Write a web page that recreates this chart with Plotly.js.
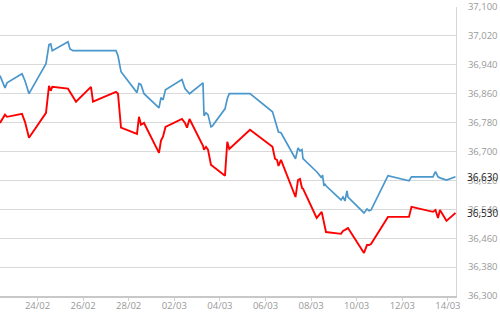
<!DOCTYPE html>
<html>
<head>
<meta charset="utf-8">
<script src="https://cdn.plot.ly/plotly-3.0.1.min.js"></script>
<style>html,body{margin:0;padding:0;background:#fff}#chart{width:500px;height:312px}</style>
</head>
<body>
<div id="chart"></div>
<script>
const times = [
'2023-02-22 08:32','2023-02-22 13:47','2023-02-22 15:54','2023-02-23 07:41','2023-02-23 10:50','2023-02-23 15:03',
'2023-02-24 08:57','2023-02-24 12:07','2023-02-24 13:53','2023-02-24 15:35','2023-02-25 08:07','2023-02-25 10:13',
'2023-02-25 13:22','2023-02-25 16:32','2023-02-26 08:19','2023-02-26 10:25','2023-02-27 10:38','2023-02-27 12:44',
'2023-02-27 15:54','2023-02-28 08:44','2023-02-28 10:50','2023-02-28 12:57','2023-02-28 16:07','2023-03-01 07:54',
'2023-03-01 10:00','2023-03-01 12:06','2023-03-01 14:44','2023-03-02 08:06','2023-03-02 11:15','2023-03-02 13:22',
'2023-03-02 16:00','2023-03-03 06:13','2023-03-03 07:16','2023-03-03 09:22','2023-03-03 11:28','2023-03-03 14:38',
'2023-03-03 16:13','2023-03-04 05:22','2023-03-04 07:47','2023-03-04 09:53','2023-03-05 07:41','2023-03-06 07:22',
'2023-03-06 10:00','2023-03-06 12:06','2023-03-06 13:41','2023-03-06 16:18','2023-03-07 07:35','2023-03-07 10:13',
'2023-03-07 12:19','2023-03-07 14:25','2023-03-07 15:28','2023-03-08 05:53','2023-03-08 11:10','2023-03-08 12:01',
'2023-03-08 13:35','2023-03-08 14:38','2023-03-08 15:41','2023-03-09 07:28','2023-03-09 09:35','2023-03-09 11:41',
'2023-03-09 13:47','2023-03-09 14:50','2023-03-10 07:41','2023-03-10 10:50','2023-03-10 12:57','2023-03-10 15:03',
'2023-03-11 08:57','2023-03-12 07:03','2023-03-12 09:41','2023-03-13 08:19','2023-03-13 10:57','2023-03-13 13:35',
'2023-03-13 15:41','2023-03-13 22:32','2023-03-14 08:00'
];
const blueValues = [
36910,36876,36890,36915,36896,36860,
36943,36996,36998,36979,37004,36984,
36979,36979,36979,36979,36979,36965,
36921,36863,36888,36885,36860,36821,
36849,36843,36871,36899,36874,36868,
36860,36890,36799,36807,36802,36768,
36771,36818,36846,36860,36860,36810,
36785,36763,36754,36752,36680,36710,
36702,36705,36680,36644,36627,36635,
36605,36610,36605,36566,36574,36563,
36591,36574,36530,36541,36536,36538,
36633,36619,36630,36630,36644,36630,
36627,36621,36630
];
const redValues = [
36779,36802,36796,36804,36782,36738,
36807,36882,36868,36879,36874,36865,
36851,36838,36879,36838,36865,36860,
36766,36749,36796,36774,36779,36696,
36730,36741,36768,36790,36779,36766,
36790,36716,36705,36713,36705,36663,
36660,36633,36727,36707,36760,36713,
36680,36677,36660,36677,36574,36621,
36624,36599,36597,36516,36533,36522,
36508,36494,36477,36472,36480,36483,
36486,36488,36419,36441,36441,36444,
36519,36519,36547,36533,36538,36516,
36538,36508,36530
];
const xRange = ['2023-02-22 08:32','2023-03-14 08:32'];
const yRange = [36300, 37100];
const yStep = 80;

const fmt = v => v.toLocaleString('en-US');
const blueLast = blueValues[blueValues.length-1];
const redLast = redValues[redValues.length-1];

const traces = [
  {x: times, y: blueValues, type:'scatter', mode:'lines', line:{color:'#4a97cc', width:1.7}, hoverinfo:'skip'},
  {x: times, y: redValues, type:'scatter', mode:'lines', line:{color:'#ff0000', width:1.9}, hoverinfo:'skip'}
];

const layout = {
  width:500, height:312,
  margin:{l:0, r:44, t:7, b:16, pad:0},
  paper_bgcolor:'#fff', plot_bgcolor:'#fff',
  showlegend:false,
  font:{family:'Open Sans, sans-serif', color:'#999'},
  xaxis:{
    type:'date', range:xRange,
    tick0:'2023-02-22', dtick:2*86400000, tickformat:'%d/%m',
    showgrid:false, zeroline:false,
    showline:true, linecolor:'#c8c8c8', linewidth:2,
    ticks:'outside', ticklen:3, tickcolor:'#d0d0d0',
    ticklabelstandoff:-3,
    tickfont:{size:9.5, color:'#999'}
  },
  yaxis:{
    side:'right', range:yRange, dtick:yStep, tick0:yRange[0], tickformat:',d',
    showgrid:true, gridcolor:'#d9d9d9', gridwidth:1, zeroline:false,
    showline:true, linecolor:'#d6d6d6', linewidth:1,
    ticks:'', ticklabelstandoff:9,
    tickfont:{size:9.5, color:'#999'}
  },
  annotations:[
    {xref:'paper', x:1, xanchor:'left', xshift:9, yref:'y', y:blueLast, yanchor:'middle',
     text:fmt(blueLast), showarrow:false, font:{size:10, color:'#222'}},
    {xref:'paper', x:1, xanchor:'left', xshift:9, yref:'y', y:redLast, yanchor:'middle',
     text:fmt(redLast), showarrow:false, font:{size:10, color:'#222'}}
  ]
};
Plotly.newPlot('chart', traces, layout, {staticPlot:true, displayModeBar:false});
</script>
</body>
</html>
